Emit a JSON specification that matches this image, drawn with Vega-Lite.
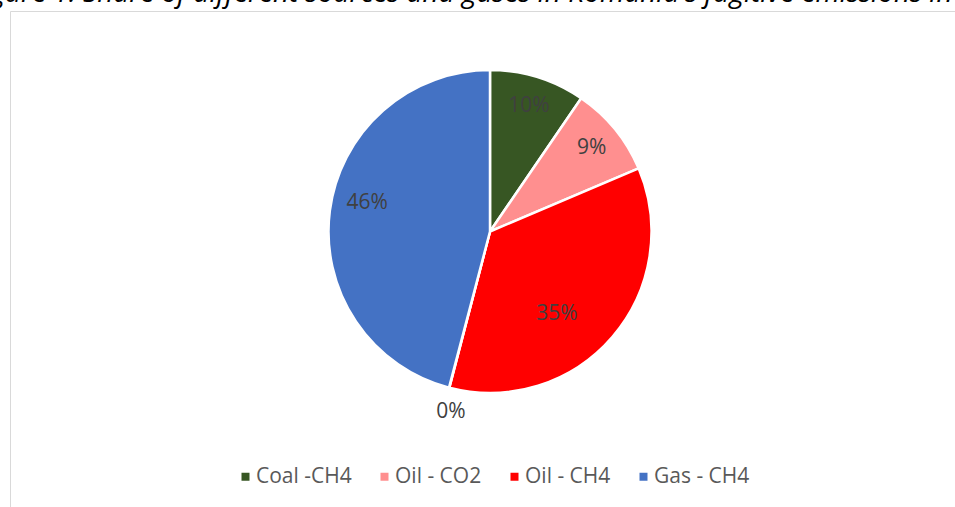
{
  "$schema": "https://vega.github.io/schema/vega-lite/v6.json",
  "width": 960,
  "height": 520,
  "autosize": {"type": "none"},
  "padding": {"left": 10, "top": 11, "right": 0, "bottom": 0},
  "background": "white",
  "view": {"stroke": "#d9d9d9", "strokeWidth": 1},
  "title": {
    "text": "Figure 1: Share of different sources and gases in Romania's fugitive emissions in 2019",
    "anchor": "start",
    "orient": "top",
    "frame": "group",
    "offset": -12,
    "dx": -40,
    "dy": 7,
    "baseline": "alphabetic",
    "font": "Open Sans",
    "fontSize": 28,
    "fontStyle": "italic",
    "fontWeight": "normal",
    "color": "#000000"
  },
  "data": {
    "values": [
      {"n": 1, "source": "Coal -CH4", "share": 0.0955},
      {"n": 2, "source": "Oil - CO2", "share": 0.0905},
      {"n": 3, "source": "Oil - CH4", "share": 0.3545},
      {"n": 4, "source": "Gas - CO2", "share": 0.0004},
      {"n": 5, "source": "Gas - CH4", "share": 0.4591}
    ]
  },
  "encoding": {
    "theta": {"field": "share", "type": "quantitative", "stack": true},
    "order": {"field": "n", "type": "quantitative"},
    "color": {
      "field": "source",
      "type": "nominal",
      "scale": {
        "domain": ["Coal -CH4", "Oil - CO2", "Oil - CH4", "Gas - CO2", "Gas - CH4"],
        "range": ["#375623", "#FF8F8F", "#FF0000", "#A5A5A5", "#4472C4"]
      },
      "legend": {
        "values": ["Coal -CH4", "Oil - CO2", "Oil - CH4", "Gas - CH4"],
        "title": null,
        "orient": "none",
        "direction": "horizontal",
        "columns": 4,
        "legendX": 225,
        "legendY": 455,
        "padding": 0,
        "columnPadding": 22,
        "symbolType": "square",
        "symbolSize": 64,
        "symbolStrokeWidth": 0,
        "symbolOpacity": 1,
        "labelOffset": 0,
        "labelFont": "Open Sans",
        "labelFontSize": 21,
        "labelColor": "#595959",
        "labelLimit": 300
      }
    }
  },
  "layer": [
    {
      "mark": {"type": "arc", "outerRadius": 161.5, "stroke": "white", "strokeWidth": 2.5, "yOffset": -39.5}
    },
    {
      "mark": {"type": "text", "font": "Open Sans", "fontSize": 21, "yOffset": -39.5},
      "encoding": {
        "color": {"value": "#404040"},
        "radius": {"value": 131.5},
        "text": {
          "condition": {"test": "datum.n <= 2", "field": "share", "type": "quantitative", "format": ".0%"},
          "value": ""
        }
      }
    },
    {
      "mark": {"type": "text", "font": "Open Sans", "fontSize": 21, "yOffset": -39.5, "thetaOffset": 0.175},
      "encoding": {
        "color": {"value": "#404040"},
        "radius": {"value": 106},
        "text": {
          "condition": {"test": "datum.n == 3", "field": "share", "type": "quantitative", "format": ".0%"},
          "value": ""
        }
      }
    },
    {
      "mark": {"type": "text", "font": "Open Sans", "fontSize": 21, "yOffset": -39.5, "thetaOffset": -0.043},
      "encoding": {
        "color": {"value": "#404040"},
        "radius": {"value": 185},
        "text": {
          "condition": {"test": "datum.n == 4", "field": "share", "type": "quantitative", "format": ".0%"},
          "value": ""
        }
      }
    },
    {
      "mark": {"type": "text", "font": "Open Sans", "fontSize": 21, "yOffset": -39.5, "thetaOffset": 0.098},
      "encoding": {
        "color": {"value": "#404040"},
        "radius": {"value": 126},
        "text": {
          "condition": {"test": "datum.n == 5", "field": "share", "type": "quantitative", "format": ".0%"},
          "value": ""
        }
      }
    }
  ]
}
